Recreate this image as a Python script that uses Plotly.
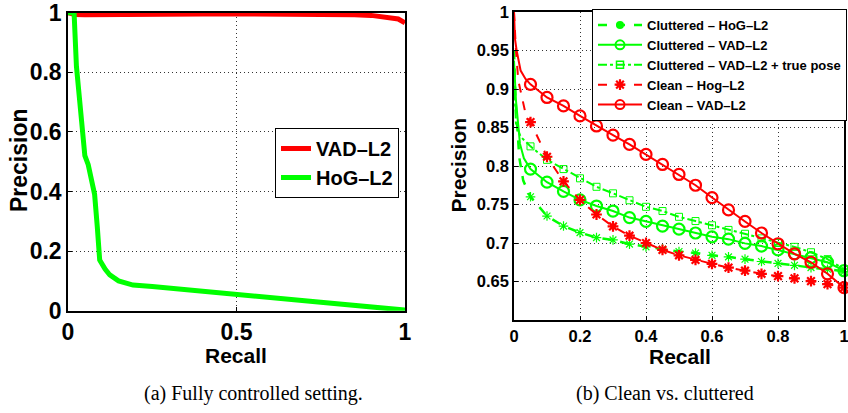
import plotly.graph_objects as go

# ---- (a) fully controlled setting ----
a_vad_recall = [0, 0.02, 0.05, 0.1, 0.2, 0.3, 0.4, 0.5, 0.6, 0.7, 0.8, 0.85, 0.9, 0.95, 0.98, 1.0]
a_vad_prec = [1.0, 0.994, 0.993, 0.994, 0.995, 0.996, 0.996, 0.996, 0.996, 0.995, 0.994, 0.993, 0.991, 0.986, 0.979, 0.966]

a_hog_recall = [0, 0.018, 0.025, 0.035, 0.045, 0.05, 0.06, 0.069, 0.079, 0.087, 0.094, 0.11, 0.124, 0.15, 0.193, 0.25, 0.5, 0.75, 1.0]
a_hog_prec = [1.0, 1.0, 0.82, 0.68, 0.54, 0.52, 0.49, 0.45, 0.39, 0.28, 0.17, 0.14, 0.12, 0.10, 0.086, 0.081, 0.053, 0.028, 0.002]

# ---- (b) clean vs. cluttered ----
# marker positions (recall) shared by all curves
b_marker_recall = [0.05, 0.1, 0.15, 0.2, 0.25, 0.3, 0.35, 0.4, 0.45, 0.5,
                   0.55, 0.6, 0.65, 0.7, 0.75, 0.8, 0.85, 0.9, 0.95, 1.0]

# low-recall head of each curve (before the first marker)
clut_hog_head_r = [0, 0.004, 0.016, 0.028]
clut_hog_head_p = [0.95, 0.89, 0.811, 0.781]
clut_hog_prec = [0.760, 0.735, 0.722, 0.7135, 0.707, 0.704, 0.6986, 0.695, 0.692, 0.689,
                 0.687, 0.684, 0.682, 0.679, 0.676, 0.6735, 0.671, 0.668, 0.666, 0.663]

clut_vad_head_r = [0, 0.006, 0.018, 0.03]
clut_vad_head_p = [0.937, 0.885, 0.829, 0.81]
clut_vad_prec = [0.796, 0.779, 0.767, 0.756, 0.748, 0.7415, 0.733, 0.728, 0.722, 0.718,
                 0.713, 0.708, 0.705, 0.6995, 0.696, 0.691, 0.686, 0.681, 0.675, 0.664]

clut_pose_head_r = [0, 0.006, 0.02]
clut_pose_head_p = [0.92, 0.855, 0.838]
clut_pose_prec = [0.8255, 0.808, 0.796, 0.784, 0.773, 0.7645, 0.7555, 0.747, 0.7415, 0.734,
                  0.7285, 0.723, 0.717, 0.712, 0.706, 0.700, 0.695, 0.688, 0.679, 0.666]

clean_hog_head_r = [0, 0.006, 0.013, 0.033]
clean_hog_head_p = [1.0, 0.95, 0.911, 0.872]
clean_hog_prec = [0.857, 0.812, 0.780, 0.756, 0.737, 0.7215, 0.7095, 0.700, 0.691, 0.684,
                  0.678, 0.673, 0.668, 0.664, 0.660, 0.657, 0.654, 0.6505, 0.6466, 0.642]

clean_vad_head_r = [0, 0.003, 0.008, 0.02, 0.035]
clean_vad_head_p = [1.0, 0.965, 0.95, 0.924, 0.913]
clean_vad_prec = [0.906, 0.889, 0.878, 0.865, 0.852, 0.840, 0.828, 0.815, 0.802, 0.789,
                  0.775, 0.759, 0.743, 0.728, 0.713, 0.699, 0.686, 0.675, 0.660, 0.642]

a_xticks = [0, 0.5, 1]
a_xtick_text = ["0", "0.5", "1"]
a_yticks = [0, 0.2, 0.4, 0.6, 0.8, 1]
a_ytick_text = ["0", "0.2", "0.4", "0.6", "0.8", "1"]
b_xticks = [0, 0.2, 0.4, 0.6, 0.8, 1]
b_xtick_text = ["0", "0.2", "0.4", "0.6", "0.8", "1"]
b_yticks = [0.65, 0.7, 0.75, 0.8, 0.85, 0.9, 0.95, 1]
b_ytick_text = ["0.65", "0.7", "0.75", "0.8", "0.85", "0.9", "0.95", "1"]

RED = "#ff0000"
GREEN = "#00ff00"
SANS = "Liberation Sans, Arial, sans-serif"
SERIF = "Liberation Serif, Times New Roman, serif"

W, H = 848, 413
# plot-area boxes in pixels (left, right, top, bottom)
A_BOX = (68, 405, 12.7, 310.7)
B_BOX = (514, 844, 12, 320)


def px_x(v):
    return v / W


def px_y(v):
    return 1 - v / H


fig = go.Figure()

# (a) curves
fig.add_trace(go.Scatter(x=a_vad_recall, y=a_vad_prec, mode="lines", name="VAD\u2013L2",
                         line=dict(color=RED, width=5), xaxis="x", yaxis="y", legend="legend"))
fig.add_trace(go.Scatter(x=a_hog_recall, y=a_hog_prec, mode="lines", name="HoG\u2013L2",
                         line=dict(color=GREEN, width=5), xaxis="x", yaxis="y", legend="legend"))

# (b) curves: each = a continuous line (head + marker points) plus the markers
b_series = [
    dict(name="Cluttered \u2013 HoG\u2013L2", head_r=clut_hog_head_r, head_p=clut_hog_head_p,
         prec=clut_hog_prec, color=GREEN, dash="dash", width=2.5,
         symbol="asterisk-open", msize=8, mlw=1.2,
         leg_symbol="circle", leg_size=8, leg_lw=0),
    dict(name="Cluttered \u2013 VAD\u2013L2", head_r=clut_vad_head_r, head_p=clut_vad_head_p,
         prec=clut_vad_prec, color=GREEN, dash="solid", width=2,
         symbol="circle-open", msize=11, mlw=2.2,
         leg_symbol="circle-open", leg_size=9, leg_lw=2),
    dict(name="Cluttered \u2013 VAD\u2013L2 + true pose", head_r=clut_pose_head_r, head_p=clut_pose_head_p,
         prec=clut_pose_prec, color=GREEN, dash="dashdot", width=2,
         symbol="square-open", msize=7, mlw=1,
         leg_symbol="square-open", leg_size=7, leg_lw=1.5),
    dict(name="Clean \u2013 Hog\u2013L2", head_r=clean_hog_head_r, head_p=clean_hog_head_p,
         prec=clean_hog_prec, color=RED, dash="dash", width=2,
         symbol="asterisk-open", msize=9, mlw=2.2,
         leg_symbol="asterisk-open", leg_size=9, leg_lw=2.2),
    dict(name="Clean \u2013 VAD\u2013L2", head_r=clean_vad_head_r, head_p=clean_vad_head_p,
         prec=clean_vad_prec, color=RED, dash="solid", width=2,
         symbol="circle-open", msize=11, mlw=2.2,
         leg_symbol="circle-open", leg_size=9, leg_lw=2),
]

for s in b_series:
    fig.add_trace(go.Scatter(
        x=s["head_r"] + b_marker_recall, y=s["head_p"] + s["prec"], mode="lines",
        line=dict(color=s["color"], width=s["width"], dash=s["dash"]),
        showlegend=False, hoverinfo="skip", xaxis="x2", yaxis="y2"))
    fig.add_trace(go.Scatter(
        x=b_marker_recall, y=s["prec"], mode="markers",
        marker=dict(symbol=s["symbol"], size=s["msize"], color=s["color"],
                    line=dict(color=s["color"], width=s["mlw"])),
        showlegend=False, name=s["name"], xaxis="x2", yaxis="y2", cliponaxis=False))
    # legend entry
    fig.add_trace(go.Scatter(
        x=[None], y=[None], mode="lines+markers", name=s["name"],
        line=dict(color=s["color"], width=s["width"], dash=s["dash"]),
        marker=dict(symbol=s["leg_symbol"], size=s["leg_size"], color=s["color"],
                    line=dict(color=s["color"], width=s["leg_lw"])),
        xaxis="x2", yaxis="y2", legend="legend2"))

grid = dict(showgrid=True, gridcolor="rgba(30,30,30,0.9)", gridwidth=1, griddash="1px,3px",
            zeroline=False, showline=True, linecolor="black", linewidth=1.5, mirror=True,
            ticks="inside", ticklen=4, tickcolor="black", tickmode="array", automargin=False,
            ticklabeloverflow="allow")

fig.update_layout(
    width=W, height=H, margin=dict(l=0, r=0, t=0, b=0, autoexpand=False),
    paper_bgcolor="white", plot_bgcolor="white",
    xaxis=dict(domain=[px_x(A_BOX[0]), px_x(A_BOX[1])], range=[0, 1], anchor="y",
               tickvals=a_xticks, ticktext=a_xtick_text,
               tickfont=dict(family=SANS, size=23, color="black", weight="bold"),
               **grid),
    yaxis=dict(domain=[px_y(A_BOX[3]), px_y(A_BOX[2])], range=[0, 1], anchor="x",
               tickvals=a_yticks, ticktext=a_ytick_text,
               tickfont=dict(family=SANS, size=23, color="black", weight="bold"),
               **grid),
    xaxis2=dict(domain=[px_x(B_BOX[0]), px_x(B_BOX[1])], range=[0, 1], anchor="y2",
                tickvals=b_xticks, ticktext=b_xtick_text,
                tickfont=dict(family=SANS, size=16.5, color="black", weight="bold"),
                **grid),
    yaxis2=dict(domain=[px_y(B_BOX[3]), px_y(B_BOX[2])], range=[0.6, 1], anchor="x2",
                tickvals=b_yticks, ticktext=b_ytick_text,
                tickfont=dict(family=SANS, size=16.5, color="black", weight="bold"),
                **grid),
    legend=dict(x=px_x(399), xanchor="right", y=px_y(128), yanchor="top",
                bgcolor="white", bordercolor="black", borderwidth=1,
                font=dict(family=SANS, size=20, color="black", weight="bold"),
                tracegroupgap=0, itemwidth=30),
    legend2=dict(x=px_x(592), xanchor="left", y=px_y(9), yanchor="top",
                 bgcolor="white", bordercolor="black", borderwidth=1,
                 font=dict(family=SANS, size=13, color="black", weight="bold"),
                 tracegroupgap=0, itemwidth=44),
    showlegend=True,
)

# axis titles and panel captions
texts = [
    dict(text="<b>Recall</b>", x=236.5, y=355, angle=0, size=21, family=SANS),
    dict(text="<b>Recall</b>", x=679.5, y=356, angle=0, size=21, family=SANS),
    dict(text="<b>Precision</b>", x=19.5, y=160.5, angle=-90, size=23, family=SANS),
    dict(text="<b>Precision</b>", x=458.5, y=165, angle=-90, size=21, family=SANS),
    dict(text="(a) Fully controlled setting.", x=253, y=393, angle=0, size=20, family=SERIF),
    dict(text="(b) Clean vs. cluttered", x=665, y=393, angle=0, size=20, family=SERIF),
]
for t in texts:
    fig.add_annotation(text=t["text"], x=px_x(t["x"]), y=px_y(t["y"]), xref="paper", yref="paper",
                       xanchor="center", yanchor="middle", textangle=t["angle"], showarrow=False,
                       font=dict(family=t["family"], size=t["size"], color="black"))

fig.write_html("out.html")
